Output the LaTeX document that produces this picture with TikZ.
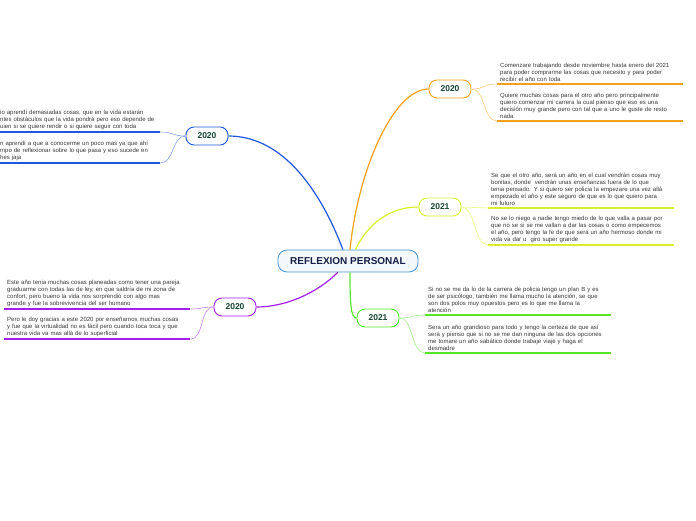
\documentclass[tikz,border=0pt]{standalone}
\usepackage{fontspec}
\setmainfont{Liberation Sans}
\definecolor{blue1}{RGB}{30, 85, 225}
\definecolor{orange1}{RGB}{245, 160, 25}
\definecolor{lime1}{RGB}{215, 240, 40}
\definecolor{green1}{RGB}{85, 230, 40}
\definecolor{violet1}{RGB}{165, 30, 240}
\definecolor{sky1}{RGB}{70, 150, 215}
\definecolor{navy1}{RGB}{20, 30, 70}
\definecolor{pine1}{RGB}{20, 70, 50}
\definecolor{text1}{RGB}{55, 55, 55}
\usepackage{tikz}
\usetikzlibrary{shapes, arrows.meta, positioning, calc}

\begin{document}
\begin{tikzpicture}[x=1pt, y=-1pt,
  topic/.style={draw=sky1, fill=sky1!7, rounded corners=9pt, line width=0.8pt, minimum width=140pt, minimum height=22pt, font=\fontsize{10}{11}\selectfont\bfseries, text=navy1},
  year/.style={draw=#1, fill=white, rounded corners=8pt, line width=0.9pt, minimum width=42pt, minimum height=18pt, font=\fontsize{8.5}{9}\selectfont\bfseries, text=pine1},
  note/.style={text width=180pt, inner xsep=3pt, inner ysep=2pt, align=left, font=\fontsize{6}{7}\selectfont, text=text1},
  branch/.style={draw=#1, line width=1.2pt},
  twig/.style={draw=#1!55, line width=0.6pt},
  noteline/.style={draw=#1, line width=1.7pt}
]
  \useasboundingbox (0,0) rectangle (696,520);
  \clip (0,0) rectangle (696,520);

  % centre and years
  \node[topic] (centre) at (348,261) {REFLEXION PERSONAL};
  \node[year=blue1] (y20a) at (207,136) {2020};
  \node[year=orange1] (y20b) at (450,89) {2020};
  \node[year=lime1] (y21a) at (440,207) {2021};
  \node[year=green1] (y21b) at (378,318) {2021};
  \node[year=violet1] (y20c) at (235,307) {2020};

  \draw[branch=blue1] (centre.114) .. controls +(-22,-58) and +(55,0) .. (y20a.east);
  \draw[branch=orange1] (centre.80) .. controls +(8,-80) and +(-35,0) .. (y20b.west);
  \draw[branch=lime1] (centre.57) .. controls +(12,-25) and +(-30,0) .. (y21a.west);
  \draw[branch=green1] (centre.-80) .. controls +(0,30) and +(-6,0) .. (y21b.west);
  \draw[branch=violet1] (centre.-132) .. controls +(-20,20) and +(30,0) .. (y20c.east);

  % notes
  \node[note, text width=160pt, inner xsep=0pt, anchor=south west] (n1) at (0,132) {io aprendí demasiadas cosas, que en la vida estarán\\ntes obstáculos que la vida pondrá pero eso depende de\\uien si se quiere rendir o si quiere seguir con toda};
  \node[note, text width=160pt, inner xsep=0pt, anchor=south west] (n2) at (0,163) {n aprendí a que a conocerme un poco mas ya que ahí\\mpo de reflexionar sobre lo que pasa y eso sucede en\\hes jaja};
  \node[note, anchor=south west] (n3) at (497,84) {Comenzare trabajando desde noviembre hasta enero del 2021\\para poder comprarme las cosas que necesito y para poder\\recibir el año con toda};
  \node[note, anchor=south west] (n4) at (497,121) {Quiere muchas cosas para el otro año pero principalmente\\quiero comenzar mi carrera la cual pienso que eso es una\\decisión muy grande pero con tal que a uno le guste de resto\\nada};
  \node[note, anchor=south west] (n5) at (488,208) {Se que el otro año, será un año en el cual vendrán cosas muy\\bonitas, donde\ \ vendrán unas enseñanzas fuera de lo que\\tenia pensado. Y si quiero ser policia la empezare una vez allá\\empezado el año y este seguro de que es lo que quiero para\\mi futuro};
  \node[note, anchor=south west] (n6) at (488,245) {No se lo niego a nadie tengo miedo de lo que valla a pasar por\\que no se si se me vallan a dar las cosas o como empecemos\\el año, pero tengo la fe de que será un año hermoso donde mi\\vida va dar u\ \ giro super grande};
  \node[note, anchor=south west] (n7) at (425,315) {Si no se me da lo de la carrera de policia tengo un plan B y es\\de ser psicólogo, también me llama mucho la atención, se que\\son dos polos muy opuestos pero es lo que me llama la\\atención};
  \node[note, anchor=south west] (n8) at (425,353) {Sera un año grandioso para todo y tengo la certeza de que así\\será y pienso que si no se me dan ninguna de las dos opciones\\me tomare un año sabático donde trabaje viaje y haga el\\desmadre};
  \node[note, anchor=south west] (n9) at (4,309) {Este año tenia muchas cosas planeadas como tener una pareja\\graduarme con todas las de ley, en que saldría de mi zona de\\confort, pero bueno la vida nos sorprendió con algo mas\\grande y fue la sobrevivencia del ser humano};
  \node[note, anchor=south west] (n10) at (4,339) {Pero le doy gracias a este 2020 por enseñarnos muchas cosas\\y fue que la virtualidad no es fácil pero cuando toca toca y que\\nuestra vida va mas allá de lo superficial};

  % underlines and twigs
  \draw[noteline=blue1] (n1.south west) -- (n1.south east);
  \draw[noteline=blue1] (n2.south west) -- (n2.south east);
  \draw[twig=blue1] (y20a.west) .. controls +(-14,0) and +(14,0) .. (n1.south east);
  \draw[twig=blue1] (y20a.west) .. controls +(-14,0) and +(14,0) .. (n2.south east);

  \draw[noteline=orange1] (n3.south west) -- (n3.south east);
  \draw[noteline=orange1] (n4.south west) -- (n4.south east);
  \draw[twig=orange1] (y20b.east) .. controls +(14,0) and +(-14,0) .. (n3.south west);
  \draw[twig=orange1] (y20b.east) .. controls +(14,0) and +(-14,0) .. (n4.south west);

  \draw[noteline=lime1] (n5.south west) -- (n5.south east);
  \draw[noteline=lime1] (n6.south west) -- (n6.south east);
  \draw[twig=lime1] (y21a.east) .. controls +(14,0) and +(-14,0) .. (n5.south west);
  \draw[twig=lime1] (y21a.east) .. controls +(14,0) and +(-14,0) .. (n6.south west);

  \draw[noteline=green1] (n7.south west) -- (n7.south east);
  \draw[noteline=green1] (n8.south west) -- (n8.south east);
  \draw[twig=green1] (y21b.east) .. controls +(14,0) and +(-14,0) .. (n7.south west);
  \draw[twig=green1] (y21b.east) .. controls +(14,0) and +(-14,0) .. (n8.south west);

  \draw[noteline=violet1] (n9.south west) -- (n9.south east);
  \draw[noteline=violet1] (n10.south west) -- (n10.south east);
  \draw[twig=violet1] (y20c.west) .. controls +(-14,0) and +(14,0) .. (n9.south east);
  \draw[twig=violet1] (y20c.west) .. controls +(-14,0) and +(14,0) .. (n10.south east);
\end{tikzpicture}
\end{document}
